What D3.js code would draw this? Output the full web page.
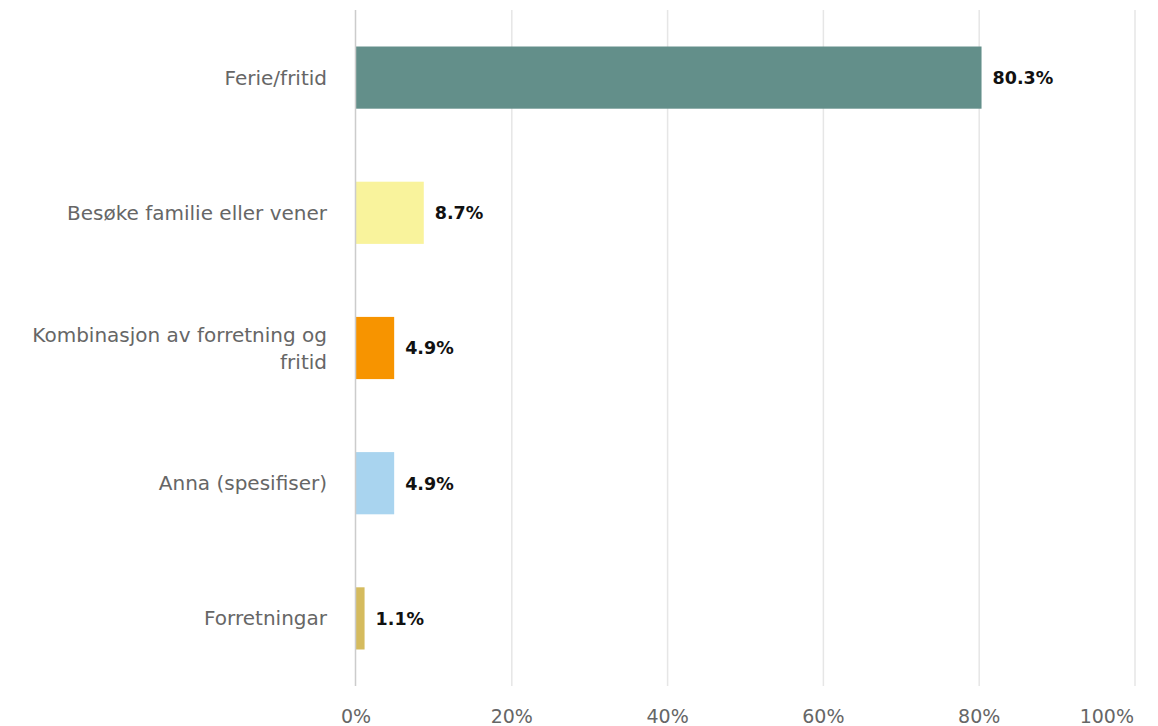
<!DOCTYPE html>
<html><head><meta charset="utf-8">
<script src="https://cdn.jsdelivr.net/npm/d3@7"></script>
<style>body{margin:0;background:#fff}svg{display:block}</style>
</head><body>
<svg id="c" width="1158" height="726"></svg>
<script>
const categories = [["Ferie/fritid"], ["Besøke familie eller vener"], ["Kombinasjon av forretning og", "fritid"], ["Anna (spesifiser)"], ["Forretningar"]];
const values = [80.3, 8.7, 4.9, 4.9, 1.1];
const colors = ["#638f8a", "#f9f39c", "#f79400", "#a9d4ef", "#d5bb5e"];
const ticks = [0, 20, 40, 60, 80, 100];

const svg = d3.select("#c");
const m = {left: 356, right: 1135, top: 10, bottom: 686};
const x = d3.scaleLinear().domain([0, 100]).range([m.left, m.right]);
const y = d3.scaleBand().domain(d3.range(values.length)).range([m.top, m.bottom]).paddingInner(0.54).paddingOuter(0.27);
const font = "DejaVu Sans, Verdana, sans-serif";

// gridlines
svg.append("g").selectAll("line").data(ticks.slice(1)).join("line")
  .attr("x1", d => x(d)).attr("x2", d => x(d))
  .attr("y1", m.top).attr("y2", m.bottom)
  .attr("stroke", "#e6e6e6").attr("stroke-width", 1.5);

// x tick labels
svg.append("g").selectAll("text").data(ticks).join("text")
  .attr("x", (d, i) => i === ticks.length - 1 ? x(d) - 1 : x(d)).attr("y", 723)
  .attr("text-anchor", (d, i) => i === ticks.length - 1 ? "end" : "middle")
  .attr("font-family", font).attr("font-size", 19).attr("fill", "#666")
  .text(d => d + "%");

// bars
svg.append("g").selectAll("rect").data(values).join("rect")
  .attr("x", x(0)).attr("y", (d, i) => y(i))
  .attr("width", d => x(d) - x(0)).attr("height", y.bandwidth())
  .attr("fill", (d, i) => colors[i]);

// axis line
svg.append("line").attr("x1", x(0) - 0.5).attr("x2", x(0) - 0.5)
  .attr("y1", m.top).attr("y2", m.bottom)
  .attr("stroke", "#cccccc").attr("stroke-width", 1.5);

// category labels
const cl = svg.append("g").selectAll("text").data(categories).join("text")
  .attr("text-anchor", "end")
  .attr("font-family", font).attr("font-size", 20).attr("fill", "#666");
cl.each(function(lines, i) {
  const cy = y(i) + y.bandwidth() / 2;
  const lh = 27;
  const start = cy - (lines.length - 1) * lh / 2;
  d3.select(this).selectAll("tspan").data(lines).join("tspan")
    .attr("x", 327).attr("y", (d, j) => start + j * lh).attr("dy", "0.35em")
    .text(d => d);
});

// data labels
svg.append("g").selectAll("text").data(values).join("text")
  .attr("x", d => x(d) + 11).attr("y", (d, i) => y(i) + y.bandwidth() / 2)
  .attr("dy", "0.36em")
  .attr("font-family", font).attr("font-size", 17.5).attr("font-weight", "bold").attr("fill", "#111")
  .text(d => d.toFixed(1) + "%");
</script>
</body></html>
